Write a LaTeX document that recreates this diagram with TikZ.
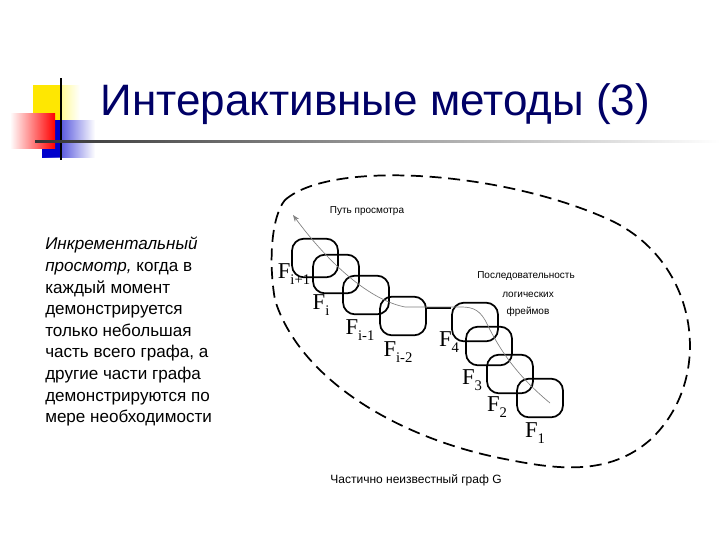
\documentclass[tikz,border=0pt]{standalone}
\usepackage{fontspec}
\setmainfont{Liberation Sans}
\newfontfamily\serifF{Liberation Serif}
\usetikzlibrary{arrows.meta}
\newcommand{\Fsub}[1]{F\raisebox{-4pt}{\fontsize{11}{11}\selectfont #1}}
\begin{document}
\begin{tikzpicture}[x=0.75pt,y=-0.75pt,
  frame/.style={draw,line width=1.3pt,rounded corners=9pt,minimum width=34.5pt,minimum height=29pt},
  flab/.style={font=\serifF\fontsize{17}{17}\selectfont},
  small/.style={font=\fontsize{7.5}{8}\selectfont},
  body/.style={font=\fontsize{12.8}{16.2}\selectfont,align=left,anchor=north west,inner sep=0}]
\useasboundingbox (0,0) rectangle (720,540);
% logo
\shade[left color=yellow!90!orange,right color=white] (33,85) rectangle (80,120);
\fill[yellow!90!orange] (33,85) rectangle (62,120);
\shade[left color=blue!80!black,right color=white] (42,120) rectangle (95,157);
\fill[blue!80!black] (42,120) rectangle (62,157);
\shade[left color=white,right color=red] (10,113) rectangle (55,148);
\draw[line width=1.5pt] (61,78) -- (61,160);
\shade[left color=black!80,right color=white] (35,140) rectangle (720,142.5);
\node[text=blue!40!black,font=\fontsize{33}{33}\selectfont,anchor=west] (title) at (96,104) {Интерактивные методы (3)};
% left text
\node[body] (txt) at (45,237) {\itshape Инкрементальный\\\itshape просмотр,\upshape{} когда в\\каждый момент\\демонстрируется\\только небольшая\\часть всего графа, а\\другие части графа\\демонстрируются по\\мере необходимости};
% outline
\draw[dashed,dash pattern=on 9pt off 5pt,line width=1.3pt]
 (285,200) .. controls (330,160) and (500,170) .. (610,220)
 .. controls (700,262) and (715,380) .. (650,440)
 .. controls (610,475) and (560,470) .. (510,460)
 .. controls (400,440) and (300,380) .. (275,300)
 .. controls (268,260) and (272,215) .. (285,200);
% frames
\node[frame] (b1) at (315,258) {};
\node[frame] (b2) at (336,274) {};
\node[frame] (b3) at (366,295) {};
\node[frame] (b4) at (403,316) {};
\node[frame] (b5) at (475,322) {};
\node[frame] (b6) at (489,346) {};
\node[frame] (b7) at (510,374) {};
\node[frame] (b8) at (540,398) {};
\draw[line width=1.3pt] (b4.east|-0,308) -- (b5.west|-0,308);
% path
\coordinate (pe) at (550,403);
\coordinate (ps) at (293,215);
\draw[gray,line width=0.5pt,-{Stealth[length=5pt]}] (pe) .. controls (510,370) and (495,340) .. (485,320)
 .. controls (478,308) and (470,307) .. (460,307) -- (405,307)
 .. controls (370,300) and (330,265) .. (ps);
% labels
\node[flab] (l1) at (294,274) {\Fsub{i+1}};
\node[flab] (l2) at (321,305) {\Fsub{i}};
\node[flab] (l3) at (360,330) {\Fsub{i-1}};
\node[flab] (l4) at (398,352) {\Fsub{i-2}};
\node[flab] (l5) at (449,342) {\Fsub{4}};
\node[flab] (l6) at (472,380) {\Fsub{3}};
\node[flab] (l7) at (497,407) {\Fsub{2}};
\node[flab] (l8) at (535,433) {\Fsub{1}};
\node[small] (pt) at (367,211) {Путь просмотра};
\node[small] (s1) at (526,276) {Последовательность};
\node[small] (s2) at (528,295) {логических};
\node[small] (s3) at (528,312) {фреймов};
\node[font=\fontsize{9}{9}\selectfont] (g) at (416,480) {Частично неизвестный граф G};
\end{tikzpicture}
\end{document}
